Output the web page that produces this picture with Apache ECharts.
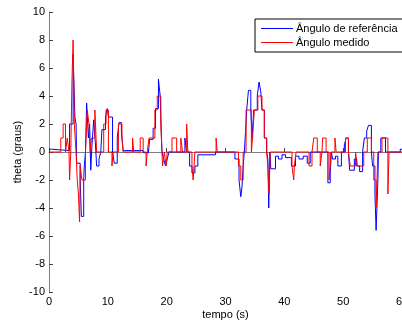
<!DOCTYPE html>
<html lang="pt">
<head>
    <meta charset="UTF-8">
    <title>theta x tempo</title>
    <script src="https://cdn.jsdelivr.net/npm/echarts@6.0.0/dist/echarts.min.js"></script>
    <style>
        html, body { margin: 0; padding: 0; background: #fff; }
    </style>
</head>
<body>
    <div id="chart" style="width: 402px; height: 324px;"></div>

    <script>
// Ângulo de referência (azul) - degraus: valor vale a partir do instante até o próximo
const refT = [0, 0.4, 3.5, 4.1, 4.4, 4.6, 4.7, 5.3, 5.5, 5.9, 6.0, 6.2, 6.4, 6.7, 6.9, 7.1, 7.3, 7.6, 7.9, 8.1,
    8.5, 8.8, 9.0, 9.6, 9.9, 10.1, 10.8, 11.1, 11.6, 11.9, 12.3, 12.6, 16.0, 16.9, 17.1, 17.7, 18.1, 18.6, 18.9,
    19.2, 19.5, 19.8, 20.1, 20.4, 23.1, 23.4, 23.9, 24.3, 24.8, 25.3, 28.3, 31.6, 32.3, 32.6, 32.8, 33.0, 33.2,
    33.4, 33.6, 33.9, 34.3, 34.5, 34.8, 35.4, 35.7, 36.0, 36.2, 36.6, 37.0, 37.2, 37.35, 37.55, 37.7, 38.5,
    39.0, 39.6, 40.2, 41.2, 41.9, 42.5, 43.2, 43.9, 44.4, 47.4, 47.8, 48.0, 48.2, 48.7, 49.1, 49.7, 50.2, 50.5,
    50.9, 51.1, 51.9, 52.3, 52.8, 53.3, 53.6, 54.0, 54.3, 54.8, 55.0, 55.4, 55.6, 55.9, 56.0, 56.4, 57.2, 59.7, 60];
const refV = [0.2, 0.1, 2.0, 7.0, 2.5, 2.0, -0.8, -2.0, -4.6, -2.0, -1.0, 0.0, 3.5, 1.0, 2.0, -1.3, 0.5, 2.3, 0.5, -1.0,
    -0.5, 0.0, 1.6, 2.5, 3.1, 2.5, 0.0, -0.8, 1.0, 2.1, 1.5, 0.1, -0.05, 0.0, 0.9, 1.7, 3.1, 5.2, 4.0,
    0.0, -0.5, -1.0, -0.5, 0.0, 1.0, 0.0, -1.0, -1.5, -1.0, -0.2, 0.0, -0.5, -2.0, -3.2, -2.5, -1.0, 0.0,
    1.4, 3.0, 4.4, 3.0, 1.0, 3.0, 4.0, 5.0, 4.3, 3.0, 1.0, 0.0, -0.5, -4.0, 0.0, -1.2, -0.3,
    -0.5, -0.2, -0.4, -1.0, -0.3, -0.5, -0.3, -0.8, 0.0, -2.2, -1.5, 0.0, -0.5, -0.3, -1.0, 0.0, 0.5, 1.0,
    0.0, -1.3, -0.5, -1.0, -1.4, 0.0, 1.0, 1.5, 1.9, 0.0, -1.0, -3.0, -5.6, -2.0, 0.0, 1.0, 0.0, 0.2, 0.2];

// Ângulo medido (vermelho)
const medT = [0, 2.0, 2.4, 2.8, 3.1, 3.4, 3.5, 3.7, 3.9, 4.1, 4.3, 4.6, 4.8, 5.0, 5.2, 5.3, 5.6, 6.2, 6.5, 6.8,
    7.0, 7.2, 7.8, 8.1, 9.3, 9.7, 10.1, 10.7, 10.9, 11.8, 12.4, 12.6, 14.2, 14.4, 15.5, 16.0, 16.5, 16.7,
    17.0, 18.0, 18.4, 19.0, 19.2, 19.3, 19.6, 19.9, 20.1, 20.9, 21.7, 22.4, 22.7, 23.4, 23.6, 24.3, 24.5,
    24.8, 28.4, 28.6, 32.2, 32.6, 33.0, 33.5, 34.4, 34.6, 34.9, 35.5, 36.2, 36.6, 37.0, 37.2, 37.4, 37.6,
    41.3, 41.6, 41.7, 42.0, 44.2, 44.7, 45.0, 45.6, 46.1, 46.4, 46.5, 47.1, 47.6, 47.8, 47.9, 48.6, 48.8,
    50.4, 50.9, 51.2, 52.1, 52.4, 53.5, 54.1, 54.8, 55.2, 55.6, 55.9, 56.6, 57.6, 57.8, 60];
const medV = [0, 1, 2, 0, 1, 0, -2, 0, 5, 8, 2, 0, -2, -3, -5, -1, -2, 0, 3, 2,
    0, 1, 3, 0, 2, 3, 0, -1, 0, 2, 1, 0, 1, 0, 1, 0, -1, 0,
    1, 3, 4, 2, 0, -1, 0, -1, 0, 1, 0, 1, 0, 2, 0, -1, -2,
    0, 1, 0, -1, -2, 0, 3, 0, 1, 3, 4, 3, 1, 0, -1, -3, 0,
    -1, -2, -1, 0, -1, 0, 1, 0, -1, 0, 1, 0, -2, -1, 0, 1, 0,
    1, 0, -1, 0, -1, 0, 1, 0, -2, -4, 0, 1, -3, 0, 0];

const xTicks = [0, 10, 20, 30, 40, 50, 60];
const yTicks = [-10, -8, -6, -4, -2, 0, 2, 4, 6, 8, 10];

const chart = echarts.init(document.getElementById('chart'));

const fonte = 'Liberation Sans, Arial, sans-serif';

chart.setOption({
    animation: false,
    textStyle: { fontFamily: fonte },
    grid: { left: 49, right: 0, top: 12, bottom: 32, outerBoundsMode: 'none' },
    legend: {
        orient: 'vertical',
        left: 255,
        top: 19,
        width: 140,
        backgroundColor: '#fff',
        borderColor: '#000',
        borderWidth: 1,
        padding: [4, 6, 4, 6],
        itemGap: 3,
        itemWidth: 32,
        itemHeight: 1,
        icon: 'rect',
        textStyle: { fontFamily: fonte, fontSize: 11, color: '#000', padding: [0, 0, 0, -2] },
        data: ['Ângulo de referência', 'Ângulo medido']
    },
    xAxis: {
        type: 'value',
        min: xTicks[0],
        max: xTicks[xTicks.length - 1],
        interval: 10,
        name: 'tempo (s)',
        nameLocation: 'middle',
        nameGap: 17,
        nameMoveOverlap: false,
        nameTextStyle: { fontFamily: fonte, fontSize: 11, color: '#000' },
        axisLine: { lineStyle: { color: '#808080', width: 1 } },
        axisTick: { inside: true, length: 4, lineStyle: { color: '#404040' } },
        axisLabel: { fontFamily: fonte, fontSize: 11, color: '#000', margin: 4, showMaxLabel: true },
        splitLine: { show: false }
    },
    yAxis: {
        type: 'value',
        min: yTicks[0],
        max: yTicks[yTicks.length - 1],
        interval: 2,
        name: 'theta (graus)',
        nameLocation: 'middle',
        nameGap: 26,
        nameMoveOverlap: false,
        nameTextStyle: { fontFamily: fonte, fontSize: 11, color: '#000' },
        axisLine: { show: true, lineStyle: { color: '#808080', width: 1 } },
        axisTick: { show: true, inside: true, length: 4, lineStyle: { color: '#404040' } },
        axisLabel: { fontFamily: fonte, fontSize: 11, color: '#000', margin: 4 },
        splitLine: { show: false }
    },
    series: [
        {
            name: 'Ângulo de referência',
            type: 'line',
            step: 'end',
            showSymbol: false,
            color: '#0000ff',
            lineStyle: { color: '#0000ff', width: 1 },
            data: refT.map((t, i) => [t, refV[i]])
        },
        {
            name: 'Ângulo medido',
            type: 'line',
            step: 'end',
            showSymbol: false,
            color: '#ff0000',
            lineStyle: { color: '#ff0000', width: 1 },
            data: medT.map((t, i) => [t, medV[i]])
        }
    ]
});
    </script>
</body>
</html>
